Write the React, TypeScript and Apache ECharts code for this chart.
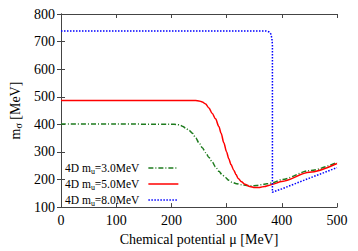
import React, { useEffect, useRef } from "react";
import * as echarts from "echarts";

const xTicks = [0, 100, 200, 300, 400, 500];
const yTicks = [100, 200, 300, 400, 500, 600, 700, 800];

const seriesNames = ["4D mu=3.0MeV", "4D mu=5.0MeV", "4D mu=8.0MeV"];

const muGreen = [0, 100, 200, 210, 216, 221, 226, 232, 238, 244, 250, 256, 262, 268, 274, 280, 286, 292, 298, 304, 310, 318, 327, 336, 345, 354, 363, 373, 383, 400, 450, 500];
const mGreen = [401, 401, 400.5, 399.5, 397, 392, 386, 378, 368, 351, 333, 315, 298, 280, 263, 246, 230, 217, 207, 197.5, 190, 185, 181, 178.5, 177, 178.5, 181, 184.5, 188, 200, 232, 262];

const muRed = [0, 100, 200, 244, 250, 256, 262, 268, 274, 280, 286, 290, 295, 300, 304, 308, 313, 317, 321, 327, 333, 342, 351, 360, 369, 376, 383, 400, 450, 500];
const mRed = [486, 486, 486, 486, 485, 481, 474, 459, 439, 420, 392, 368, 333, 300, 275, 254, 234, 218, 204, 192, 183, 175, 171, 171.5, 175, 178.5, 183, 193, 226, 258];

const muBlue = [0, 100, 200, 300, 372, 377, 380, 382, 383, 383, 400, 450, 500];
const mBlue = [738, 738, 738, 738, 738, 735, 728, 712, 690, 154, 166, 205, 243];

const colors = ["#1e7b1e", "#ff0000", "#0000ff"];
const FONT = "Liberation Serif";

function pairs(xs: number[], ys: number[]) {
  return xs.map((x, i) => [x, ys[i]]);
}

export default function App() {
  const ref = useRef<HTMLDivElement>(null);
  useEffect(() => {
    if (!ref.current) return;
    const chart = echarts.init(ref.current, undefined, { renderer: "svg" });
    const axisLine = { show: true, lineStyle: { color: "#444", width: 1 } };
    const tick = { show: true, inside: true, length: 4, lineStyle: { color: "#444" } };
    chart.setOption({
      animation: false,
      backgroundColor: "#fff",
      grid: { left: 56, right: 21, top: 14, bottom: 37 },
      legend: {
        orient: "vertical",
        left: 65,
        top: 161,
        padding: 0,
        align: "right",
        itemWidth: 30,
        itemHeight: 10,
        itemGap: 2,
        data: seriesNames,
        itemStyle: { opacity: 0, borderWidth: 0 },
        lineStyle: { width: 1.5 },
        formatter: (name: string) => name.replace("mu", "m{s|u}"),
        textStyle: {
          fontFamily: FONT,
          fontSize: 11.5,
          color: "#000",
          lineHeight: 14,
          padding: [0, 4, 0, 0],
          rich: {
            s: { fontFamily: FONT, fontSize: 8, color: "#000", verticalAlign: "bottom", padding: [5, 0, 0, 0] },
          },
        },
      },
      xAxis: [
        {
          type: "value",
          min: 0,
          max: 500,
          interval: 100,
          name: "Chemical potential μ [MeV]",
          nameLocation: "middle",
          nameGap: 22,
          nameTextStyle: { fontFamily: FONT, fontSize: 14, color: "#000" },
          axisLine,
          axisTick: tick,
          splitLine: { show: false },
          axisLabel: {
            fontFamily: FONT,
            fontSize: 14,
            color: "#000",
            margin: 6,
            formatter: (v: number) => (xTicks.includes(v) ? String(v) : ""),
          },
        },
        {
          type: "value",
          position: "top",
          min: 0,
          max: 500,
          interval: 100,
          axisLine,
          axisTick: tick,
          splitLine: { show: false },
          axisLabel: { show: false },
        },
      ],
      yAxis: [
        {
          type: "value",
          min: 100,
          max: 800,
          interval: 100,
          name: "{m|m}{s|σ} [MeV]",
          nameLocation: "middle",
          nameGap: 38,
          nameTextStyle: {
            fontFamily: FONT,
            fontSize: 14,
            color: "#000",
            rich: {
              m: { fontFamily: FONT, fontSize: 14, color: "#000" },
              s: { fontFamily: FONT, fontSize: 10, color: "#000", verticalAlign: "bottom", padding: [6, 0, 0, 0] },
            },
          },
          axisLine,
          axisTick: tick,
          splitLine: { show: false },
          axisLabel: {
            fontFamily: FONT,
            fontSize: 14,
            color: "#000",
            margin: 6,
            formatter: (v: number) => (yTicks.includes(v) ? String(v) : ""),
          },
        },
        {
          type: "value",
          position: "right",
          min: 100,
          max: 800,
          interval: 100,
          axisLine,
          axisTick: tick,
          splitLine: { show: false },
          axisLabel: { show: false },
        },
      ],
      series: [
        {
          name: seriesNames[0],
          type: "line",
          symbol: "none",
          smooth: 0.3,
          smoothMonotone: "x",
          data: pairs(muGreen, mGreen),
          lineStyle: { color: colors[0], width: 1.5, type: [5, 2, 1, 2] },
          itemStyle: { color: colors[0] },
        },
        {
          name: seriesNames[1],
          type: "line",
          symbol: "none",
          smooth: 0.3,
          smoothMonotone: "x",
          data: pairs(muRed, mRed),
          lineStyle: { color: colors[1], width: 1.5, type: "solid" },
          itemStyle: { color: colors[1] },
        },
        {
          name: seriesNames[2],
          type: "line",
          symbol: "none",
          data: pairs(muBlue, mBlue),
          lineStyle: { color: colors[2], width: 1.5, type: [1.5, 1.5] },
          itemStyle: { color: colors[2] },
        },
      ],
    });
    return () => chart.dispose();
  }, []);
  return (
    <div
      ref={ref}
      style={{ position: "fixed", left: 0, top: 0, width: 358, height: 251, background: "#fff" }}
    />
  );
}
